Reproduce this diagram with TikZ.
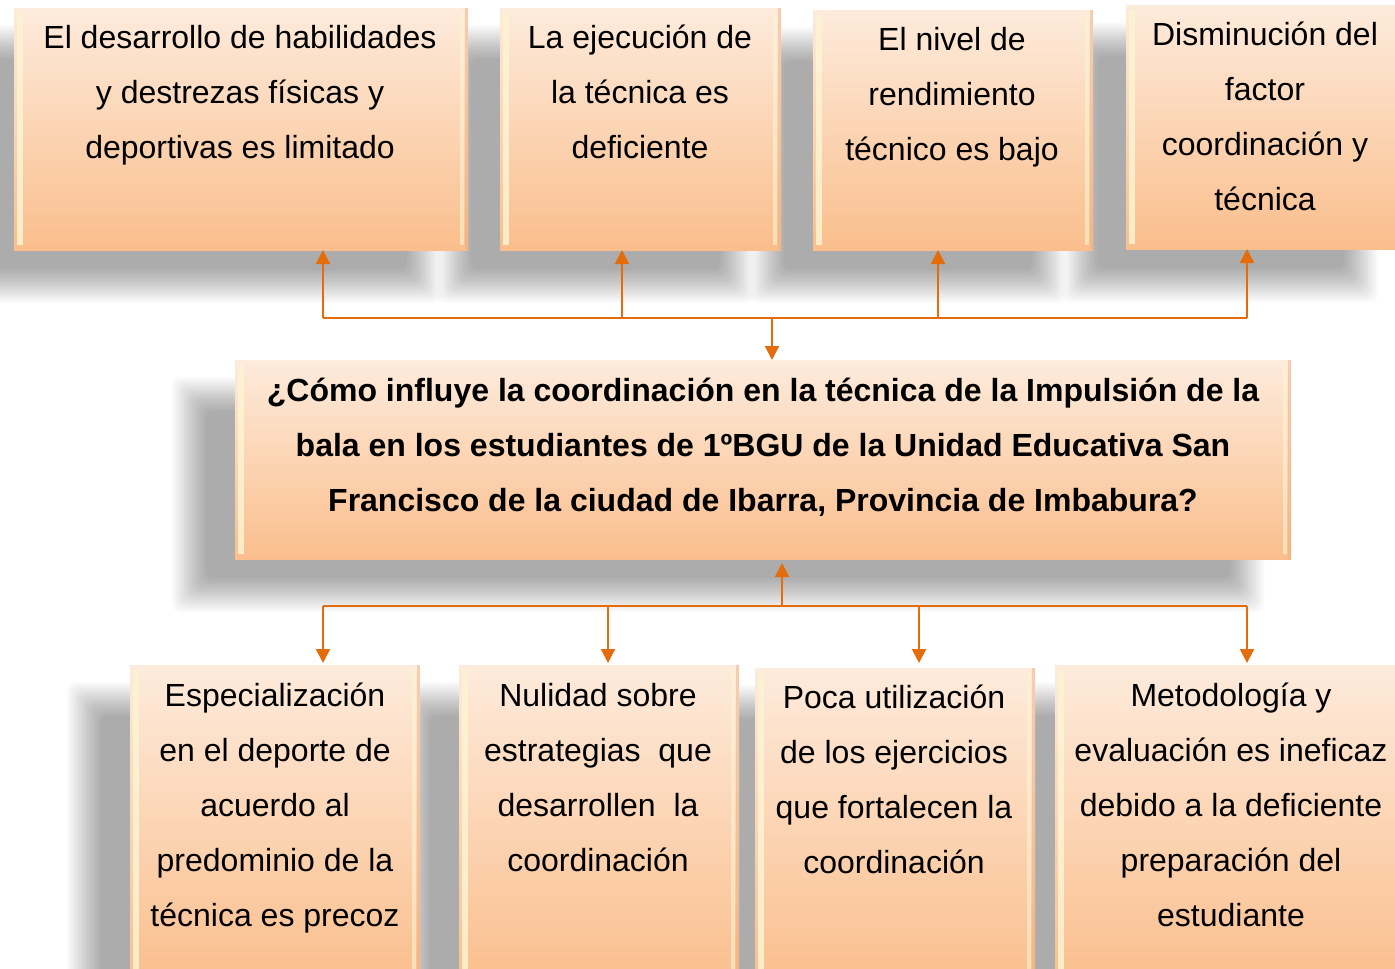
\documentclass[tikz,border=0pt]{standalone}
\usepackage{fontspec}
\setmainfont{Liberation Sans}
\usetikzlibrary{arrows.meta}
\definecolor{peachtop}{RGB}{253,235,220}
\definecolor{peachbot}{RGB}{250,190,140}
\definecolor{arrowc}{RGB}{228,108,10}
\definecolor{bevlight}{RGB}{252,244,210}
\definecolor{bevdark}{RGB}{236,172,125}
\pgfdeclarelayer{back}
\pgfdeclarelayer{shadowlayer}
\pgfsetlayers{back,shadowlayer,main}
\tikzset{
  boxst/.style={rectangle, inner sep=0pt, outer sep=0pt, draw=none,
    top color=peachtop, bottom color=peachbot,
    path picture={
      \fill[bevlight, opacity=0.85] ([xshift=3pt,yshift=-5pt]path picture bounding box.north west)
        rectangle ([xshift=9pt,yshift=5pt]path picture bounding box.south west);
      \fill[bevlight, opacity=0.6] ([xshift=-8pt,yshift=-5pt]path picture bounding box.north east)
        rectangle ([xshift=-4pt,yshift=5pt]path picture bounding box.south east);
      \fill[bevdark, opacity=0.45] ([xshift=-3pt,yshift=0pt]path picture bounding box.north east)
        rectangle (path picture bounding box.south east);
    }},
  shadowst/.style={fill=black, opacity=0.021, rounded corners=8pt},
  txt/.style={anchor=north, inner sep=0pt, align=center, text=black,
    font=\fontsize{32}{55}\selectfont},
  btxt/.style={txt, font=\fontsize{32}{55}\selectfont\bfseries},
  conn/.style={draw=arrowc, line width=2pt},
  arr/.style={conn, -{Triangle[width=14pt,length=14pt]}}
}
\begin{document}
\begin{tikzpicture}[x=1pt,y=-1pt]
\useasboundingbox (0,0) rectangle (1395,969);
\begin{pgfonlayer}{back}
\fill[white] (0,0) rectangle (1395,969);
\end{pgfonlayer}
\clip (0,0) rectangle (1395,969);
% boxes
\node[boxst, minimum width=454pt, minimum height=242pt] (T1) at (241,129) {};
\node[boxst, minimum width=281pt, minimum height=242pt] (T2) at (640.5,129) {};
\node[boxst, minimum width=280pt, minimum height=240pt] (T3) at (953,130) {};
\node[boxst, minimum width=279pt, minimum height=244pt] (T4) at (1265.5,127) {};
\node[boxst, minimum width=1056pt, minimum height=199pt] (Q) at (763,459.5) {};
\node[boxst, minimum width=290pt, minimum height=320pt] (B1) at (275,825) {};
\node[boxst, minimum width=280pt, minimum height=320pt] (B2) at (599,825) {};
\node[boxst, minimum width=280pt, minimum height=317pt] (B3) at (895,826.5) {};
\node[boxst, minimum width=352pt, minimum height=320pt] (B4) at (1231,825) {};
% soft shadows behind all boxes
\begin{pgfonlayer}{shadowlayer}
\foreach \n in {T1,T2,T3,T4,Q,B1,B2,B3,B4}{
  \foreach \e in {18,16,...,-16}{
    \path[shadowst] ([xshift={(-45-\e)*1pt}, yshift={(-35+\e)*1pt}]\n.north west)
      rectangle ([xshift={(-45+\e)*1pt}, yshift={(-35-\e)*1pt}]\n.south east);
  }
}
\end{pgfonlayer}
% texts
\node[txt] (T1t) at (240,9.5) {\strut El desarrollo de habilidades\\y destrezas físicas y\\deportivas es limitado};
\node[txt] (T2t) at (640,9.5) {\strut La ejecución de\\la técnica es\\deficiente};
\node[txt] (T3t) at (952,11.5) {\strut El nivel de\\rendimiento\\técnico es bajo};
\node[txt] (T4t) at (1265,6.5) {\strut Disminución del\\factor\\coordinación y\\técnica};
\node[btxt] (Qt) at (763,362.5) {\strut ¿Cómo influye la coordinación en la técnica de la Impulsión de la\\bala en los estudiantes de 1ºBGU de la Unidad Educativa San\\Francisco de la ciudad de Ibarra, Provincia de Imbabura?};
\node[txt] (B1t) at (275,667.5) {\strut Especialización\\en el deporte de\\acuerdo al\\predominio de la\\técnica es precoz};
\node[txt] (B2t) at (598,667.5) {\strut Nulidad sobre\\estrategias~ que\\desarrollen~ la\\coordinación};
\node[txt] (B3t) at (894,669.5) {\strut Poca utilización\\de los ejercicios\\que fortalecen la\\coordinación};
\node[txt] (B4t) at (1231,667.5) {\strut Metodología y\\evaluación es ineficaz\\debido a la deficiente\\preparación del\\estudiante};
% top connectors
\coordinate (ta) at (323,318);
\coordinate (tb) at (622,318);
\coordinate (tj) at (772,318);
\coordinate (tc) at (938,318);
\coordinate (td) at (1247,318);
\draw[conn] (ta) -- (td);
\draw[arr] (ta) -- (ta |- T1.south);
\draw[arr] (tb) -- (tb |- T2.south);
\draw[arr] (tc) -- (tc |- T3.south);
\draw[arr] (td) -- (td |- T4.south);
\draw[arr] (tj) -- (tj |- Q.north);
% bottom connectors
\coordinate (ba) at (323,606);
\coordinate (bb) at (608,606);
\coordinate (bj) at (782,606);
\coordinate (bc) at (919,606);
\coordinate (bd) at (1247,606);
\draw[conn] (ba) -- (bd);
\draw[arr] (bj) -- ([yshift=-4pt]bj |- Q.south);
\draw[arr] (ba) -- ([yshift=2pt]ba |- B1.north);
\draw[arr] (bb) -- ([yshift=2pt]bb |- B2.north);
\draw[arr] (bc) -- ([yshift=5pt]bc |- B3.north);
\draw[arr] (bd) -- ([yshift=2pt]bd |- B4.north);
\end{tikzpicture}
\end{document}
